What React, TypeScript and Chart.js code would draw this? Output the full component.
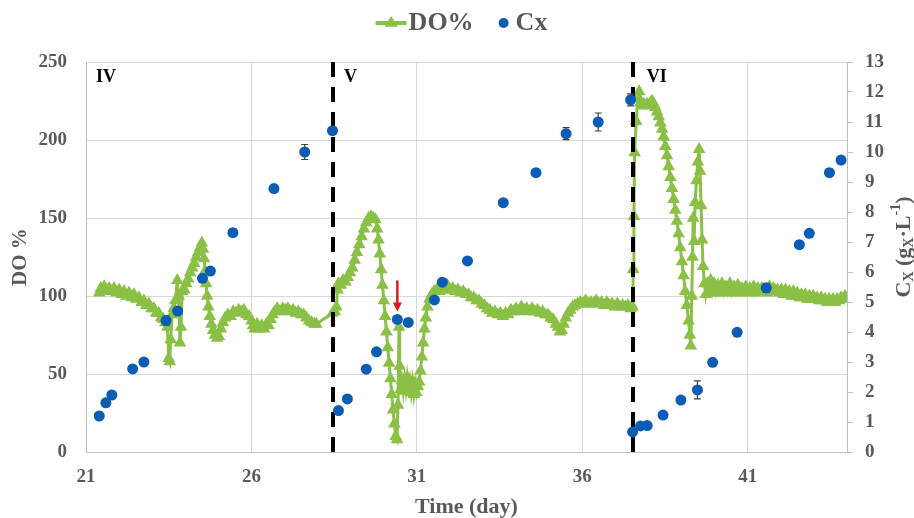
import React, { useEffect, useRef } from 'react';
import { Chart, registerables } from 'chart.js';

Chart.register(...registerables);

const FONT = "'Liberation Serif', 'Times New Roman', serif";
const GRAY = '#595959';
const GREEN = '#8AC045';
const BLUE = '#0B5CB5';
const GRID = '#D9D9D9';
const AXIS = '#BFBFBF';

// x-axis tick values (days)
const xTicks = [21, 26, 31, 36, 41];

// DO% series (time in days, DO in %)
const doTime = [
  21.40, 21.45, 21.50, 21.55, 21.62, 21.70, 21.78, 21.85, 21.92, 22.00, 22.08, 22.15, 22.22, 22.30, 22.38, 22.45,
  22.52, 22.60, 22.68, 22.75, 22.82, 22.90, 22.98, 23.05, 23.12, 23.20, 23.27, 23.34, 23.40, 23.46, 23.50, 23.53,
  23.56, 23.60, 23.65, 23.70, 23.76, 23.80, 23.84, 23.87, 23.91, 23.97, 24.03, 24.09, 24.15, 24.21, 24.27, 24.33,
  24.39, 24.45, 24.50, 24.54, 24.57, 24.60, 24.63, 24.66, 24.70, 24.74, 24.79, 24.84, 24.90, 24.96, 25.02, 25.08,
  25.14, 25.21, 25.29, 25.37, 25.45, 25.53, 25.61, 25.69, 25.77, 25.85, 25.93, 26.00, 26.05, 26.10, 26.17, 26.24,
  26.31, 26.38, 26.45, 26.52, 26.58, 26.64, 26.71, 26.78, 26.86, 26.94, 27.02, 27.10, 27.18, 27.26, 27.34, 27.42,
  27.50, 27.58, 27.66, 27.74, 27.82, 27.90, 27.96, 28.45,
  28.52, 28.57, 28.60, 28.63, 28.70, 28.77, 28.84, 28.91, 28.98, 29.05, 29.12, 29.19, 29.26, 29.33, 29.40, 29.47,
  29.54, 29.61, 29.68, 29.75, 29.80, 29.84, 29.88, 29.92, 29.96, 30.00, 30.04, 30.08, 30.12, 30.16, 30.20, 30.24,
  30.28, 30.32, 30.36, 30.40, 30.43, 30.46, 30.48, 30.51, 30.55, 30.59, 30.63, 30.67, 30.71, 30.75, 30.79, 30.83,
  30.87, 30.91, 30.95, 30.99, 31.03, 31.07, 31.11, 31.15, 31.19, 31.23, 31.27, 31.32, 31.38, 31.45, 31.52, 31.60,
  31.68, 31.76, 31.84, 31.92, 32.00, 32.08, 32.16, 32.24, 32.32, 32.40, 32.48, 32.56, 32.64, 32.72, 32.80, 32.88,
  32.96, 33.04, 33.12, 33.20, 33.28, 33.36, 33.44, 33.52, 33.60, 33.68, 33.76, 33.84, 33.92, 34.00, 34.08, 34.16,
  34.24, 34.32, 34.40, 34.48, 34.56, 34.64, 34.72, 34.80, 34.88, 34.96, 35.04, 35.12, 35.20, 35.26, 35.32, 35.38,
  35.44, 35.50, 35.57, 35.64, 35.71, 35.78, 35.86, 35.94, 36.02, 36.10, 36.18, 36.26, 36.34, 36.42, 36.50, 36.58,
  36.66, 36.74, 36.82, 36.90, 36.98, 37.06, 37.14, 37.22, 37.30, 37.38, 37.46, 37.52,
  37.54, 37.56, 37.58, 37.63, 37.68, 37.72, 37.76, 37.81, 37.86, 37.91, 37.96, 38.01, 38.06, 38.11, 38.16, 38.21,
  38.26, 38.31, 38.36, 38.41, 38.46, 38.51, 38.56, 38.61, 38.66, 38.71, 38.76, 38.81, 38.86, 38.91, 38.96, 39.01,
  39.06, 39.11, 39.16, 39.21, 39.25, 39.28, 39.31, 39.33, 39.35, 39.38, 39.41, 39.45, 39.49, 39.53, 39.56, 39.59,
  39.62, 39.65, 39.69, 39.73, 39.78, 39.83, 39.88, 39.93, 39.98, 40.04, 40.10, 40.16, 40.22, 40.28, 40.34, 40.40,
  40.46, 40.52, 40.58, 40.64, 40.70, 40.76, 40.82, 40.88, 40.94, 41.00, 41.06, 41.12, 41.18, 41.24, 41.30, 41.36,
  41.42, 41.48, 41.54, 41.60, 41.66, 41.72, 41.78, 41.84, 41.90, 41.96, 42.02, 42.08, 42.14, 42.20, 42.26, 42.32,
  42.38, 42.44, 42.50, 42.56, 42.62, 42.68, 42.74, 42.80, 42.86, 42.92, 42.98, 43.04, 43.10, 43.16, 43.22, 43.28,
  43.34, 43.40, 43.46, 43.52, 43.58, 43.64, 43.70, 43.76, 43.82, 43.88, 43.94,
];
const doPct = [
  102, 105, 103, 106, 104, 105, 103, 105, 102, 104, 101, 103, 100, 102, 99, 101,
  98, 99, 96, 97, 94, 95, 92, 92, 89, 89, 86, 85, 83, 80, 60, 58,
  72, 88, 92, 97, 110, 100, 70, 80, 103, 104, 108, 111, 115, 118, 121, 125,
  128, 131, 134, 130, 124, 116, 108, 100, 93, 87, 82, 78, 75, 73, 74, 79,
  83, 86, 88, 87, 90, 89, 91, 90, 91, 88, 87, 84, 81, 79, 82, 79,
  81, 79, 82, 81, 85, 88, 90, 92, 90, 92, 91, 92, 90, 91, 89, 90,
  88, 88, 86, 84, 83, 82, 82, 89,
  90, 93, 104, 108, 107, 110, 109, 112, 115, 118, 123, 128, 133, 138, 143, 147,
  150, 151, 150, 149, 143, 136, 127, 117, 107, 97, 87, 77, 67, 57, 47, 37,
  27, 18, 10, 8, 30, 80, 55, 40, 46, 39, 47, 40, 48, 41, 46, 38,
  45, 37, 44, 38, 42, 45, 52, 61, 70, 79, 86, 93, 98, 101, 103, 104,
  103, 106, 104, 107, 104, 105, 103, 104, 102, 103, 101, 101, 99, 99, 97, 97,
  95, 94, 92, 91, 89, 90, 88, 89, 87, 89, 88, 91, 90, 92, 90, 93,
  91, 92, 90, 92, 90, 91, 89, 90, 88, 88, 86, 85, 82, 80, 77, 78,
  82, 86, 89, 91, 93, 94, 95, 96, 95, 97, 95, 96, 95, 97, 95, 96,
  94, 96, 94, 95, 93, 95, 93, 94, 93, 94, 92, 93,
  117, 151, 192, 212, 228, 231, 224, 222, 223, 222, 223, 222, 224, 225, 223, 221,
  218, 215, 211, 207, 202, 196, 190, 183, 176, 169, 162, 155, 148, 140, 131, 122,
  113, 103, 94, 84, 75, 68, 100, 125, 150, 135, 160, 174, 186, 194, 180, 158,
  136, 119, 108, 101, 108, 104, 110, 103, 108, 102, 107, 103, 108, 102, 106, 103,
  108, 102, 106, 103, 107, 102, 105, 103, 106, 102, 105, 103, 106, 102, 105, 103,
  105, 103, 104, 102, 106, 103, 105, 103, 104, 102, 104, 101, 104, 101, 103, 100,
  103, 100, 102, 99, 101, 99, 101, 98, 100, 98, 100, 98, 99, 97, 99, 97,
  98, 96, 98, 96, 98, 96, 98, 97, 99, 98, 100,
];

// Biomass concentration Cx (g/L) with error bars
const cxTime = [
  21.40, 21.60, 21.78, 22.41, 22.75, 23.42, 23.77, 24.52, 24.76, 25.44, 26.68, 27.61, 28.45,
  28.63, 28.90, 29.47, 29.78, 30.41, 30.74, 31.53, 31.77, 32.53, 33.61, 34.60, 35.51, 36.48, 37.46,
  37.52, 37.76, 37.96, 38.44, 38.98, 39.48, 39.94, 40.68, 41.56, 42.56, 42.86, 43.47, 43.82,
];
const cxVal = [
  1.20, 1.64, 1.90, 2.77, 3.00, 4.38, 4.70, 5.79, 6.03, 7.31, 8.78, 10.00, 10.71,
  1.38, 1.77, 2.76, 3.34, 4.42, 4.32, 5.07, 5.66, 6.37, 8.31, 9.31, 10.61, 11.00, 11.74,
  0.67, 0.87, 0.88, 1.23, 1.73, 2.07, 2.99, 3.99, 5.47, 6.91, 7.29, 9.31, 9.73,
];
const cxErr = [
  0, 0, 0, 0, 0, 0.15, 0, 0, 0, 0.12, 0, 0.25, 0,
  0, 0, 0, 0, 0, 0, 0, 0, 0, 0.1, 0, 0.2, 0.3, 0.2,
  0, 0, 0, 0, 0, 0.3, 0, 0, 0.15, 0, 0, 0.12, 0,
];

// Phase boundaries and labels
const phaseBounds = [28.47, 37.52];
const phaseLabels = ['IV', 'V', 'VI'];
const phaseLabelDays = [21.3, 28.8, 37.95];
const phaseLabelDO = 240;

// Red arrow marker
const arrowDay = 30.41;
const arrowFrom = 110;
const arrowTo = 90;

const overlayPlugin = {
  id: 'overlay',
  afterDatasetDraw(chart: any, args: any) {
    if (args.index !== 0) return;
    const { ctx, chartArea } = chart;
    const xs = chart.scales.x;
    const ys1 = chart.scales.y1;
    ctx.save();
    ctx.strokeStyle = '#000';
    ctx.lineWidth = 4;
    ctx.setLineDash([15, 10]);
    phaseBounds.forEach((d) => {
      const px = Math.round(xs.getPixelForValue(d));
      ctx.beginPath();
      ctx.moveTo(px, chartArea.top);
      ctx.lineTo(px, chartArea.bottom);
      ctx.stroke();
    });
    ctx.setLineDash([]);
    ctx.strokeStyle = '#404040';
    ctx.lineWidth = 1.2;
    cxTime.forEach((t, i) => {
      const e = cxErr[i];
      if (!e) return;
      const px = xs.getPixelForValue(t);
      const ya = ys1.getPixelForValue(cxVal[i] - e);
      const yb = ys1.getPixelForValue(cxVal[i] + e);
      ctx.beginPath();
      ctx.moveTo(px, ya);
      ctx.lineTo(px, yb);
      ctx.moveTo(px - 3.5, ya);
      ctx.lineTo(px + 3.5, ya);
      ctx.moveTo(px - 3.5, yb);
      ctx.lineTo(px + 3.5, yb);
      ctx.stroke();
    });
    ctx.restore();
  },
  afterDraw(chart: any) {
    const { ctx } = chart;
    const xs = chart.scales.x;
    const ys = chart.scales.y;
    ctx.save();

    // phase labels
    ctx.fillStyle = '#000';
    ctx.font = `bold 18px ${FONT}`;
    ctx.textAlign = 'left';
    ctx.textBaseline = 'middle';
    phaseLabels.forEach((lab, i) => {
      ctx.fillText(lab, xs.getPixelForValue(phaseLabelDays[i]), ys.getPixelForValue(phaseLabelDO));
    });

    // red arrow
    const ax = xs.getPixelForValue(arrowDay);
    const ay0 = ys.getPixelForValue(arrowFrom);
    const ay1 = ys.getPixelForValue(arrowTo);
    ctx.strokeStyle = '#E3161D';
    ctx.fillStyle = '#E3161D';
    ctx.lineWidth = 2.5;
    ctx.beginPath();
    ctx.moveTo(ax, ay0);
    ctx.lineTo(ax, ay1 - 7);
    ctx.stroke();
    ctx.beginPath();
    ctx.moveTo(ax - 4.5, ay1 - 9);
    ctx.lineTo(ax + 4.5, ay1 - 9);
    ctx.lineTo(ax, ay1);
    ctx.closePath();
    ctx.fill();

    // legend
    const ly = 23;
    ctx.font = `bold 26px ${FONT}`;
    ctx.textBaseline = 'middle';
    const w1 = ctx.measureText('DO%').width;
    const w2 = ctx.measureText('Cx').width;
    const total = 31 + 2 + w1 + 25 + 17 + w2;
    let x = 461.5 - total / 2;
    ctx.strokeStyle = GREEN;
    ctx.fillStyle = GREEN;
    ctx.lineWidth = 4;
    ctx.beginPath();
    ctx.moveTo(x, ly);
    ctx.lineTo(x + 31, ly);
    ctx.stroke();
    const tcx = x + 15.5;
    const r = 7;
    ctx.beginPath();
    ctx.moveTo(tcx, ly - r);
    ctx.lineTo(tcx + r * 0.95, ly + r * 0.55);
    ctx.lineTo(tcx - r * 0.95, ly + r * 0.55);
    ctx.closePath();
    ctx.fill();
    x += 33;
    ctx.fillStyle = GRAY;
    ctx.fillText('DO%', x, ly);
    x += w1 + 25;
    ctx.fillStyle = BLUE;
    ctx.beginPath();
    ctx.arc(x + 5, ly, 5, 0, Math.PI * 2);
    ctx.fill();
    x += 17;
    ctx.fillStyle = GRAY;
    ctx.fillText('Cx', x, ly);

    // right axis title with subscripts
    const parts = [
      { t: 'C', s: 22, dy: 0 },
      { t: 'X', s: 14, dy: 5 },
      { t: ' (g', s: 22, dy: 0 },
      { t: 'X', s: 14, dy: 5 },
      { t: '\u00B7L', s: 22, dy: 0 },
      { t: '-1', s: 14, dy: -8 },
      { t: ')', s: 22, dy: 0 },
    ];
    let tw = 0;
    parts.forEach((p) => {
      ctx.font = `bold ${p.s}px ${FONT}`;
      tw += ctx.measureText(p.t).width;
    });
    ctx.translate(904, 247);
    ctx.rotate(-Math.PI / 2);
    ctx.fillStyle = GRAY;
    ctx.textAlign = 'left';
    ctx.textBaseline = 'middle';
    let px = -tw / 2;
    parts.forEach((p) => {
      ctx.font = `bold ${p.s}px ${FONT}`;
      ctx.fillText(p.t, px, p.dy);
      px += ctx.measureText(p.t).width;
    });
    ctx.restore();
  },
};

export default function App() {
  const canvasRef = useRef<HTMLCanvasElement | null>(null);

  useEffect(() => {
    const canvas = canvasRef.current;
    if (!canvas) return;
    const tickFont = { family: FONT, size: 19, weight: 'bold' as const };
    const chart = new Chart(canvas, {
      type: 'line',
      data: {
        datasets: [
          {
            label: 'DO%',
            data: doTime.map((t, i) => ({ x: t, y: doPct[i] })),
            yAxisID: 'y',
            borderColor: GREEN,
            backgroundColor: GREEN,
            borderWidth: 3,
            pointStyle: 'triangle',
            pointRadius: 5.8,
            pointBorderWidth: 1.5,
            pointBackgroundColor: GREEN,
            pointBorderColor: GREEN,
            tension: 0,
            fill: false,
            order: 2,
          } as any,
          {
            label: 'Cx',
            type: 'scatter',
            data: cxTime.map((t, i) => ({ x: t, y: cxVal[i] })),
            yAxisID: 'y1',
            showLine: false,
            pointRadius: 5.5,
            pointBackgroundColor: BLUE,
            pointBorderColor: BLUE,
            pointBorderWidth: 0,
            order: 1,
          } as any,
        ],
      },
      options: {
        responsive: false,
        animation: false,
        layout: { padding: { top: 62, left: 0, right: 0, bottom: 0 } },
        plugins: { legend: { display: false }, tooltip: { enabled: false } },
        scales: {
          x: {
            type: 'linear',
            min: 21,
            max: 44,
            afterBuildTicks: (s: any) => {
              s.ticks = xTicks.map((v) => ({ value: v }));
            },
            afterFit: (s: any) => {
              s.height = 66;
            },
            grid: { color: GRID, drawTicks: false },
            border: { color: AXIS },
            ticks: { font: tickFont, color: GRAY, padding: 14 },
            title: {
              display: true,
              text: 'Time (day)',
              font: { family: FONT, size: 22, weight: 'bold', lineHeight: 1 },
              color: GRAY,
              padding: { top: 0, bottom: 0 },
            },
          },
          y: {
            position: 'left',
            min: 0,
            max: 250,
            afterFit: (s: any) => {
              s.width = 86;
            },
            grid: { color: GRID, drawTicks: false },
            border: { color: AXIS },
            ticks: { stepSize: 50, font: tickFont, color: GRAY, padding: 19 },
            title: {
              display: true,
              text: 'DO %',
              font: { family: FONT, size: 21, weight: 'bold', lineHeight: 1 },
              color: GRAY,
              padding: { top: 10, bottom: 0 },
            },
          },
          y1: {
            position: 'right',
            min: 0,
            max: 13,
            afterFit: (s: any) => {
              s.width = 67;
            },
            grid: { drawOnChartArea: false, drawTicks: true, tickLength: 6, color: AXIS },
            border: { color: AXIS },
            ticks: { stepSize: 1, font: tickFont, color: GRAY, padding: 12 },
          },
        },
      } as any,
      plugins: [overlayPlugin],
    });
    return () => chart.destroy();
  }, []);

  return (
    <div style={{ position: 'absolute', left: 0, top: 0, width: 914, height: 518, background: '#fff' }}>
      <canvas ref={canvasRef} width={914} height={518} />
    </div>
  );
}
